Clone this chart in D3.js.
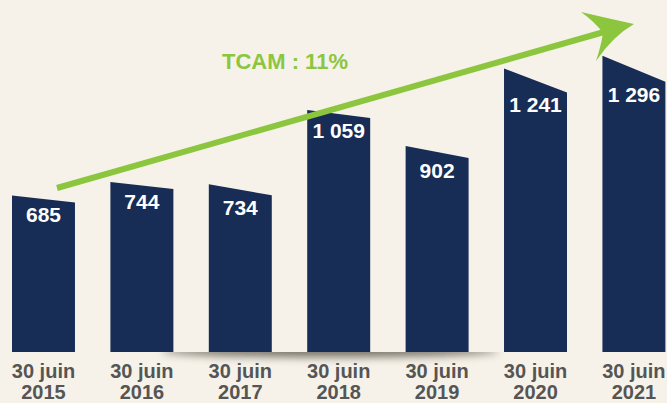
<!DOCTYPE html>
<html>
<head>
<meta charset="utf-8">
<script src="https://cdn.jsdelivr.net/npm/d3@7"></script>
<style>
  html, body { margin: 0; padding: 0; background: #f6f2e9; }
  svg { display: block; font-family: "Liberation Sans", Arial, sans-serif; }
</style>
</head>
<body>
<div class="chart"></div>
<script>
//Data
var years = ["2015", "2016", "2017", "2018", "2019", "2020", "2021"];
var values = [685, 744, 734, 1059, 902, 1241, 1296];
var valueLabels = ["685", "744", "734", "1 059", "902", "1 241", "1 296"];
var dateLabel = "30 juin";
var growthLabel = "TCAM : 11%";

//How much each bar top drops from left to right (pixels)
var tilts = [7, 7, 11, 8, 12, 24, 26];

function barChart(){
  var w = 667;
  var h = 403;
  var base = 352;

  var svg = d3.select(".chart")
              .append("svg")
              .attr("width", w)
              .attr("height", h);

  svg.append("rect")
      .attr("width", w)
      .attr("height", h)
      .attr("fill", "#f6f2e9");

  var x = d3.scaleBand()
            .domain(years)
            .range([12, 665.4])
            .paddingInner(0.36)
            .paddingOuter(0);

  var y = d3.scaleLinear()
            .domain([0, 1300])
            .range([base, base - 1300 * 0.2285]);

  //Soft shadow under the bars, only below the base line
  var defs = svg.append("defs");
  defs.append("filter")
      .attr("id", "blur")
      .attr("x", "-20%").attr("y", "-300%")
      .attr("width", "140%").attr("height", "700%")
      .append("feGaussianBlur")
      .attr("stdDeviation", 4);
  defs.append("clipPath")
      .attr("id", "below")
      .append("rect")
      .attr("x", 0).attr("y", base)
      .attr("width", w).attr("height", h - base);

  svg.append("g")
      .attr("clip-path", "url(#below)")
      .append("ellipse")
      .attr("cx", 330)
      .attr("cy", base - 1)
      .attr("rx", 168)
      .attr("ry", 6)
      .attr("fill", "#5e594e")
      .attr("opacity", 0.85)
      .attr("filter", "url(#blur)");

  //Bars with a slanted top
  svg.selectAll("path.bar")
      .data(values)
      .enter()
      .append("path")
      .attr("class", "bar")
      .attr("fill", "#172d55")
      .attr("d", function(d, i){
        var x0 = x(years[i]);
        var x1 = x0 + x.bandwidth();
        var top = y(d);
        return "M" + x0 + "," + base +
               "L" + x0 + "," + top +
               "L" + x1 + "," + (top + tilts[i]) +
               "L" + x1 + "," + base + "Z";
      });

  //Value labels
  svg.selectAll("text.value")
      .data(values)
      .enter()
      .append("text")
      .attr("class", "value")
      .attr("x", function(d, i){ return x(years[i]) + x.bandwidth() / 2; })
      .attr("y", function(d, i){ return y(d) + tilts[i] + 20; })
      .attr("text-anchor", "middle")
      .attr("fill", "#ffffff")
      .style("font-size", "21px")
      .style("font-weight", "bold")
      .text(function(d, i){ return valueLabels[i]; });

  //X axis, two lines per tick
  var xAxis = d3.axisBottom(x).tickSize(0).tickPadding(0);
  var gx = svg.append("g")
      .attr("transform", "translate(0," + base + ")")
      .call(xAxis);
  gx.select(".domain").remove();
  gx.selectAll("text")
      .attr("y", null)
      .attr("dy", null)
      .attr("fill", "#555555")
      .style("font-size", "20px")
      .style("font-weight", "bold")
      .style("font-family", "Liberation Sans, Arial, sans-serif")
      .text(null)
      .each(function(d){
        var t = d3.select(this);
        t.append("tspan").attr("x", 0).attr("y", 26).text(dateLabel);
        t.append("tspan").attr("x", 0).attr("y", 47).text(d);
      });

  //Growth arrow
  var sx = 57, sy = 188;
  var tipX = 634, tipY = 24;
  svg.append("line")
      .attr("x1", sx).attr("y1", sy)
      .attr("x2", 604).attr("y2", 32)
      .attr("stroke", "#8cc63f")
      .attr("stroke-width", 6);

  svg.append("path")
      .attr("fill", "#8cc63f")
      .attr("d", "M" + tipX + "," + tipY +
                 "Q613,36 596,61" +
                 "Q601,46 603,33" +
                 "Q595,22 581,12" +
                 "Q611,19 " + tipX + "," + tipY + "Z");

  svg.append("text")
      .attr("x", 285)
      .attr("y", 69)
      .attr("text-anchor", "middle")
      .attr("fill", "#8cc63f")
      .style("font-size", "22px")
      .style("font-weight", "bold")
      .text(growthLabel);
}

window.onload = barChart;
</script>
</body>
</html>
